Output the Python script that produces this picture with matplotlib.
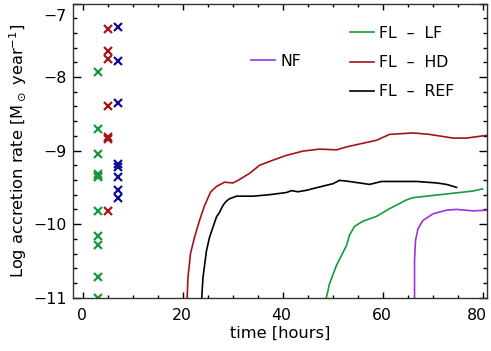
import matplotlib
matplotlib.use("Agg")
import matplotlib.pyplot as plt
import matplotlib.transforms as mtransforms

# ---- data ----
lf_t = [48.5, 49.3, 50.7, 52.7, 53.3, 54.3, 56.0, 58.7, 61.3, 64.7, 66.0, 70.0, 74.0, 78.0, 79.9]
lf_v = [-11.05, -10.81, -10.56, -10.29, -10.15, -10.03, -9.96, -9.895, -9.79, -9.67, -9.64, -9.61, -9.58, -9.55, -9.52]

hd_t = [20.8, 21.0, 21.5, 22.3, 23.3, 24.3, 25.5, 26.7, 28.3, 30.0, 31.0, 33.3, 35.3, 38.0, 40.7, 44.0,
        47.3, 50.7, 52.7, 56.0, 58.7, 61.3, 66.0, 69.3, 74.0, 76.7, 81.0]
hd_v = [-11.05, -10.72, -10.40, -10.18, -9.95, -9.75, -9.565, -9.487, -9.43, -9.44, -9.405, -9.31, -9.20,
        -9.13, -9.065, -9.007, -8.98, -8.99, -8.95, -8.90, -8.86, -8.78, -8.76, -8.78, -8.83, -8.83, -8.79]

ref_t = [23.7, 24.0, 24.7, 25.3, 26.0, 26.7, 27.3, 28.0, 28.5, 29.0, 29.3, 30.7, 34.0, 37.3, 40.7, 41.7,
         43.0, 44.7, 46.7, 50.0, 51.3, 52.7, 55.3, 57.3, 59.7, 63.3, 66.7, 70.7, 72.7, 74.7]
ref_v = [-11.05, -10.72, -10.36, -10.18, -10.04, -9.90, -9.84, -9.745, -9.70, -9.67, -9.655, -9.62, -9.62,
         -9.60, -9.57, -9.545, -9.56, -9.54, -9.505, -9.45, -9.405, -9.415, -9.44, -9.46, -9.42, -9.42,
         -9.42, -9.44, -9.46, -9.50]

nf_t = [66.3, 66.3, 66.5, 67.0, 68.0, 70.0, 72.7, 74.7, 78.0, 81.0]
nf_v = [-11.05, -10.49, -10.22, -10.06, -9.95, -9.86, -9.81, -9.80, -9.82, -9.81]

lf_pts_t = [3.0] * 11
lf_pts_v = [-7.93, -8.707, -9.052, -9.314, -9.361, -9.827, -10.167, -10.28, -10.725, -9.34, -11.0]
hd_pts_t = [5.0] * 7
hd_pts_v = [-7.342, -7.646, -7.755, -8.399, -8.816, -8.848, -9.827]
ref_pts_t = [7.0] * 8
ref_pts_v = [-7.32, -7.777, -8.348, -9.178, -9.224, -9.361, -9.541, -9.65]

x_ticks = [0, 20, 40, 60, 80]
y_ticks = [-11, -10, -9, -8, -7]
y_tick_labels = ["\u221211", "\u221210", "\u22129", "\u22128", "\u22127"]
labels = ["NF", "FL  \u2013  LF", "FL  \u2013  HD", "FL  \u2013  REF"]

c_green = "#169a3c"
c_red = "#a41414"
c_blue = "#0c0c96"
c_purple = "#9a34dc"

fs = 11.3

fig = plt.figure(figsize=(4.91, 3.51), dpi=100)
ax = fig.add_axes([0.1487, 0.152, 0.8432, 0.838])

lw = 1.2
l_lf, = ax.plot(lf_t, lf_v, color=c_green, lw=lw)
l_hd, = ax.plot(hd_t, hd_v, color=c_red, lw=lw)
l_ref, = ax.plot(ref_t, ref_v, color="black", lw=lw)
l_nf, = ax.plot(nf_t, nf_v, color=c_purple, lw=lw)

for tt, vv, cc in [(lf_pts_t, lf_pts_v, c_green), (hd_pts_t, hd_pts_v, c_red), (ref_pts_t, ref_pts_v, c_blue)]:
    ax.plot(tt, vv, linestyle="none", marker="x", ms=5.5, mew=1.6, color=cc)

ax.set_xlim(-2, 80.8)
ax.set_ylim(-11, -7)
ax.set_xticks(x_ticks)
ax.set_xticks(range(0, 81, 5), minor=True)
ax.set_yticks(y_ticks)
ax.set_yticklabels(y_tick_labels)
ax.set_yticks([-11 + 0.2 * i for i in range(21)], minor=True)

ax.tick_params(axis="both", which="both", direction="in", top=True, right=True, labelsize=fs, width=1.0)
ax.tick_params(axis="x", which="major", length=4, pad=7.5)
ax.tick_params(axis="x", which="minor", length=2.2)
ax.tick_params(axis="y", which="major", length=6, pad=4.5)
ax.tick_params(axis="y", which="minor", length=3)
for s in ax.spines.values():
    s.set_linewidth(1.0)
    s.set_color("#333333")

# top y tick label sits below its tick, as in the reference
top_lab = ax.get_yticklabels()[-1]
top_lab.set_transform(top_lab.get_transform() + mtransforms.ScaledTranslation(0, -11 / 100, fig.dpi_scale_trans))
# x tick labels slightly left; last one pulled inside the figure
xlabs = ax.get_xticklabels()
for i, lab in enumerate(xlabs):
    dx = -6 if i == len(xlabs) - 1 else -1.5
    lab.set_transform(lab.get_transform() + mtransforms.ScaledTranslation(dx / 100, 0, fig.dpi_scale_trans))

ax.set_xlabel("time [hours]", fontsize=fs + 0.4, labelpad=2)
ax.set_ylabel(r"Log accretion rate [M$_\odot$ year$^{-1}$]", fontsize=fs + 0.4, labelpad=3)

leg1 = ax.legend([l_lf, l_hd, l_ref], labels[1:], loc="upper left", bbox_to_anchor=(0.669, 0.925),
                 frameon=False, fontsize=fs, handlelength=1.53, handletextpad=0.32,
                 labelspacing=0.92, borderpad=0, borderaxespad=0)
ax.add_artist(leg1)
ax.legend([l_nf], labels[:1], loc="upper left", bbox_to_anchor=(0.430, 0.829),
          frameon=False, fontsize=fs, handlelength=1.53, handletextpad=0.32,
          borderpad=0, borderaxespad=0)

fig.savefig("out.png", dpi=100)
